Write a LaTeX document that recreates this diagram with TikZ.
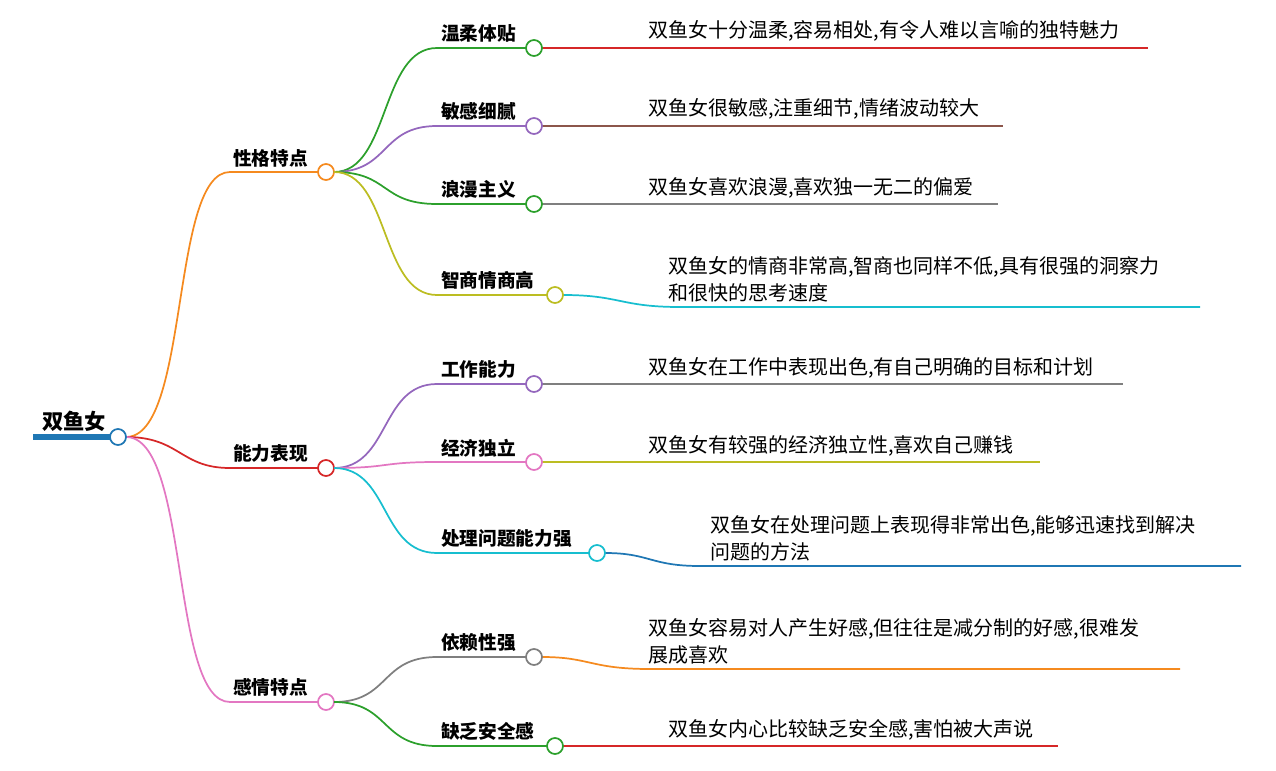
\documentclass[tikz,border=0pt]{standalone}
\usepackage{fontspec}
\setmainfont{Noto Sans CJK SC}
\begin{document}
\begin{tikzpicture}[x=0.75pt,y=-0.75pt,line width=1.3pt]
\definecolor{cor}{HTML}{F58A1F}\definecolor{cre}{HTML}{D62728}\definecolor{cpk}{HTML}{E377C2}
\definecolor{cgr}{HTML}{2CA02C}\definecolor{cpu}{HTML}{9467BD}\definecolor{col}{HTML}{BCBD22}
\definecolor{ccy}{HTML}{17BECF}\definecolor{cgy}{HTML}{7F7F7F}\definecolor{cbr}{HTML}{8C564B}
\definecolor{cbl}{HTML}{1F77B4}
\tikzset{dot/.style={circle,draw=#1,fill=white,line width=1.3pt,minimum size=12pt,inner sep=0pt},
lab/.style={anchor=south west,font=\bfseries\fontsize{14}{16}\selectfont,inner sep=1pt},
leaf/.style={anchor=south west,font=\fontsize{15}{20}\selectfont,inner sep=1pt,align=left}}
\useasboundingbox (0,0) rectangle (1276,770);
\coordinate (r0) at (33,437);
\draw[cbl,line width=4pt] (r0) -- (118,437);
\node[lab,font=\bfseries\fontsize{16}{18}\selectfont] (rt) at (40,434) {双鱼女};
\coordinate (s1) at (230,172); \coordinate (s2) at (230,468); \coordinate (s3) at (230,702);
\draw[cor] (126,437) .. controls (190,437) and (170,172) .. (s1) -- (318,172);
\draw[cre] (126,437) .. controls (180,437) and (180,468) .. (s2) -- (318,468);
\draw[cpk] (126,437) .. controls (190,437) and (170,702) .. (s3) -- (318,702);
\node[dot=cbl] (root) at (118,437) {};
\node[dot=cor] (n1) at (326,172) {}; \node[lab] (t1) at (231,169) {性格特点};
\node[dot=cre] (n2) at (326,468) {}; \node[lab] (t2) at (231,465) {能力表现};
\node[dot=cpk] (n3) at (326,702) {}; \node[lab] (t3) at (231,699) {感情特点};
\foreach \y/\c/\x in {48/cgr/534,126/cpu/534,204/cgr/534,295/col/555}{
 \draw[\c] (334,172) .. controls (390,172) and (380,\y) .. (437,\y) -- (\x,\y);}
\foreach \y/\c/\x in {384/cpu/534,462/cpk/534,553/ccy/597}{
 \draw[\c] (334,468) .. controls (390,468) and (380,\y) .. (437,\y) -- (\x,\y);}
\foreach \y/\c/\x in {657/cgy/534,746/cgr/555}{
 \draw[\c] (334,702) .. controls (390,702) and (380,\y) .. (437,\y) -- (\x,\y);}
\draw[cre] (542,48) -- (1148,48);
\draw[cbr] (542,126) -- (1003,126);
\draw[cgy] (542,204) -- (998,204);
\draw[ccy] (563,295) .. controls (620,295) and (620,307) .. (680,307) -- (1200,307);
\draw[cgy] (542,384) -- (1123,384);
\draw[col] (542,462) -- (1040,462);
\draw[cbl] (605,553) .. controls (650,553) and (650,566) .. (700,566) -- (1241,566);
\draw[cor] (542,657) .. controls (590,657) and (590,669) .. (650,669) -- (1180,669);
\draw[cre] (563,746) -- (1058,746);
\node[dot=cgr] (a1) at (534,48) {};  \node[lab] at (439,45) {温柔体贴};
\node[dot=cpu] (a2) at (534,126) {}; \node[lab] at (439,123) {敏感细腻};
\node[dot=cgr] (a3) at (534,204) {}; \node[lab] at (439,201) {浪漫主义};
\node[dot=col] (a4) at (555,295) {}; \node[lab] at (439,292) {智商情商高};
\node[dot=cpu] (b1) at (534,384) {}; \node[lab] at (439,381) {工作能力};
\node[dot=cpk] (b2) at (534,462) {}; \node[lab] at (439,459) {经济独立};
\node[dot=ccy] (b3) at (597,553) {}; \node[lab] at (439,550) {处理问题能力强};
\node[dot=cgy] (c1) at (534,657) {}; \node[lab] at (439,654) {依赖性强};
\node[dot=cgr] (c2) at (555,746) {}; \node[lab] at (439,743) {缺乏安全感};
\node[leaf] at (646,44) {双鱼女十分温柔,容易相处,有令人难以言喻的独特魅力};
\node[leaf] at (646,122) {双鱼女很敏感,注重细节,情绪波动较大};
\node[leaf] at (646,200) {双鱼女喜欢浪漫,喜欢独一无二的偏爱};
\node[leaf] at (666,304) {双鱼女的情商非常高,智商也同样不低,具有很强的洞察力\\和很快的思考速度};
\node[leaf] at (646,380) {双鱼女在工作中表现出色,有自己明确的目标和计划};
\node[leaf] at (646,458) {双鱼女有较强的经济独立性,喜欢自己赚钱};
\node[leaf] at (708,563) {双鱼女在处理问题上表现得非常出色,能够迅速找到解决\\问题的方法};
\node[leaf] at (646,666) {双鱼女容易对人产生好感,但往往是减分制的好感,很难发\\展成喜欢};
\node[leaf] at (666,742) {双鱼女内心比较缺乏安全感,害怕被大声说};
\end{tikzpicture}
\end{document}
